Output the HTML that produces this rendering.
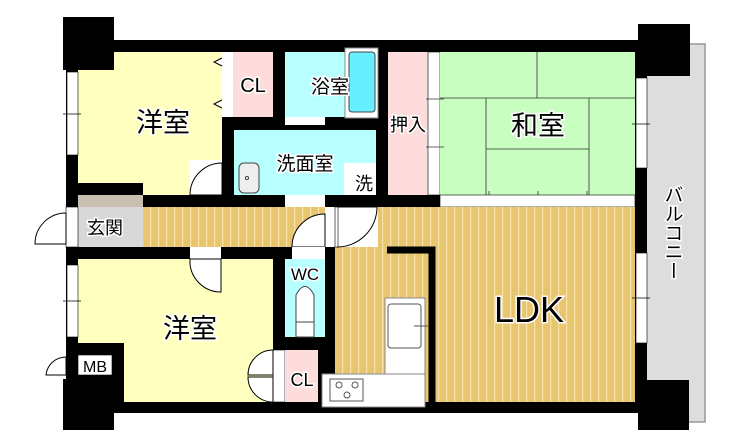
<!DOCTYPE html>
<html><head><meta charset="utf-8"><style>
html,body{margin:0;padding:0;background:#fff;width:740px;height:448px;overflow:hidden}
text{font-family:"Liberation Sans","Noto Sans CJK JP",sans-serif;fill:#000;stroke:#fff;stroke-width:3;paint-order:stroke}
</style></head><body>
<svg width="740" height="448" viewBox="0 0 740 448" xmlns="http://www.w3.org/2000/svg">
<defs>
<pattern id="wood" width="8" height="10" patternUnits="userSpaceOnUse">
<rect width="8" height="10" fill="#e8c670"/><rect x="6" width="1.2" height="10" fill="#f6e2a8"/>
</pattern>
</defs>
<!-- balcony -->
<rect x="640" y="44" width="65" height="378" fill="#ddd" stroke="#999" stroke-width="1.5"/>
<!-- structure base black -->
<rect x="66" y="40" width="581" height="373" fill="#000"/>
<!-- rooms -->
<rect x="78" y="52" width="144" height="131" fill="#ffffc0"/>
<rect x="143" y="183" width="47" height="12" fill="#ffffc0"/>
<rect x="190" y="160" width="32" height="35" fill="#fff"/>
<path d="M190 195 A32 32 0 0 1 222 163 L222 195Z" fill="#fff" stroke="#000" stroke-width="1"/>
<rect x="222" y="52" width="11" height="65" fill="#fff"/>
<path d="M222 58 L214 62 L222 66 M222 100 L214 104 L222 108" fill="#fff" stroke="#000" stroke-width="1"/>
<rect x="233" y="52" width="40" height="65" fill="#ffdcdc"/>
<rect x="285" y="52" width="93" height="65" fill="#b8ffff"/>
<rect x="345" y="48" width="33" height="70" fill="#fff" stroke="#888"/>
<rect x="349" y="52" width="26" height="60" rx="3" fill="#66f0ff" stroke="#444"/>
<rect x="285" y="117" width="40" height="8" fill="#fff"/>
<rect x="234" y="130" width="142" height="65" fill="#b8ffff"/>
<rect x="239" y="163" width="20" height="30" rx="5" fill="#eee" stroke="#444"/>
<circle cx="247" cy="178" r="1.6" fill="none" stroke="#444"/>
<rect x="344" y="163" width="32" height="32" fill="#fff"/>
<rect x="285" y="195" width="40" height="12" fill="#fff"/>
<rect x="388" y="52" width="40" height="143" fill="#ffdcdc"/>
<rect x="428" y="52" width="12" height="143" fill="#fff" stroke="#000" stroke-width="0.6"/>
<rect x="440" y="52" width="195" height="143" fill="#c8ffc0"/>
<g stroke="#333" stroke-width="0.8" fill="none">
<path d="M537 52 V98 M440 98 H635 M486 98 V195 M589 98 V195 M486 149 H589"/>
<path d="M426 99 H444 M426 147 H444 M489 191 V212 M538 191 V212 M587 191 V212"/>
</g>
<rect x="440" y="195" width="195" height="12" fill="#fff" stroke="#000" stroke-width="0.6"/>
<!-- hall & LDK -->
<rect x="143" y="207" width="182" height="40" fill="url(#wood)"/>
<rect x="78" y="195" width="65" height="12" fill="#c8bfb0"/>
<rect x="78" y="207" width="65" height="40" fill="#d8d8d8"/>
<rect x="378" y="207" width="257" height="195" fill="url(#wood)"/>
<rect x="335" y="247" width="50" height="155" fill="url(#wood)"/>
<rect x="325" y="207" width="53" height="40" fill="#fff"/>
<path d="M337 247 A40 40 0 0 0 377 207 L337 207Z" fill="#fff" stroke="#000" stroke-width="1"/>
<rect x="335" y="207" width="3" height="40" fill="#fff" stroke="#000" stroke-width="0.6"/>
<path d="M292 247 A33 33 0 0 1 325 214 L325 247Z" fill="#fff" stroke="#000" stroke-width="1"/>
<!-- kitchen -->
<path d="M387 250 H432 V402" fill="none" stroke="#000" stroke-width="7"/>
<rect x="385" y="298" width="40" height="76" fill="#fff" stroke="#888"/>
<rect x="388" y="304" width="33" height="44" rx="3" fill="#fff" stroke="#555"/>
<line x1="414" y1="326" x2="428" y2="326" stroke="#555"/>
<rect x="322" y="374" width="103" height="33" fill="#fff" stroke="#888"/>
<rect x="330" y="379" width="33" height="22" fill="none" stroke="#555"/>
<g fill="none" stroke="#555"><circle cx="339" cy="385" r="3"/><circle cx="355" cy="385" r="3"/><circle cx="347" cy="395" r="3"/></g>
<!-- bottom left room -->
<rect x="78" y="259" width="195" height="84" fill="#ffffc0"/>
<rect x="124" y="343" width="149" height="59" fill="#ffffc0"/>
<rect x="190" y="247" width="31" height="12" fill="#fff"/>
<path d="M190 259 A31 31 0 0 0 221 292 L221 259Z" fill="#fff" stroke="#000" stroke-width="1"/>
<rect x="273" y="350" width="12" height="52" fill="#fff" stroke="#000" stroke-width="0.6"/>
<path d="M273 350 A25 25 0 0 0 248 375 L273 375Z M273 402 A25 25 0 0 1 248 377 L273 377Z" fill="#fff" stroke="#000" stroke-width="1"/>
<rect x="285" y="259" width="40" height="78" fill="#b8ffff"/>
<rect x="292" y="247" width="33" height="12" fill="#fff"/>
<path d="M296 325 V295 Q305 278 314 295 V325Z" fill="#fff" stroke="#444"/>
<rect x="296" y="322" width="18" height="15" fill="#fff" stroke="#444"/>
<rect x="285" y="350" width="33" height="52" fill="#ffdcdc"/>
<!-- corner blocks -->
<rect x="63" y="17" width="51" height="53" fill="#000"/>
<rect x="638" y="24" width="52" height="52" fill="#000"/>
<rect x="638" y="380" width="51" height="50" fill="#000"/>
<rect x="63" y="379" width="51" height="51" fill="#000"/>
<!-- windows -->
<g fill="#fff" stroke="#000" stroke-width="0.6">
<rect x="67" y="72" width="11" height="83"/>
<rect x="67" y="265" width="11" height="72"/>
<rect x="636" y="78" width="11" height="90"/>
<rect x="636" y="253" width="11" height="90"/>
<rect x="66" y="207" width="12" height="40"/>
<rect x="78" y="355" width="34" height="20"/>
</g>
<g stroke="#000" stroke-width="0.8"><path d="M63 114 H81 M63 301 H81 M632 124 H650 M632 298 H650"/></g>
<path d="M66 213 A31 31 0 0 0 35 244 L66 244Z" fill="#fff" stroke="#000" stroke-width="1"/>
<path d="M66 357 A20 20 0 0 0 46 375 L66 375Z" fill="#fff" stroke="#000" stroke-width="1"/>
<!-- labels -->
<text x="163" y="132" font-size="27" text-anchor="middle">洋室</text>
<text x="253" y="92" font-size="20" text-anchor="middle">CL</text>
<text x="330" y="93" font-size="19" text-anchor="middle">浴室</text>
<text x="305" y="170" font-size="19" text-anchor="middle">洗面室</text>
<text x="364" y="190" font-size="18" text-anchor="middle">洗</text>
<text x="408" y="131" font-size="18" text-anchor="middle">押入</text>
<text x="538" y="135" font-size="27" text-anchor="middle">和室</text>
<text x="105" y="234" font-size="18" text-anchor="middle">玄関</text>
<text x="305" y="280" font-size="17" text-anchor="middle">WC</text>
<text x="190" y="338" font-size="27" text-anchor="middle">洋室</text>
<text x="302" y="386" font-size="18" text-anchor="middle">CL</text>
<text x="95" y="372" font-size="16" text-anchor="middle">MB</text>
<text x="529" y="322" font-size="36" text-anchor="middle">LDK</text>
<text x="672" y="185" font-size="19" text-anchor="start" style="writing-mode:vertical-rl">バルコニー</text>
</svg>
</body></html>
